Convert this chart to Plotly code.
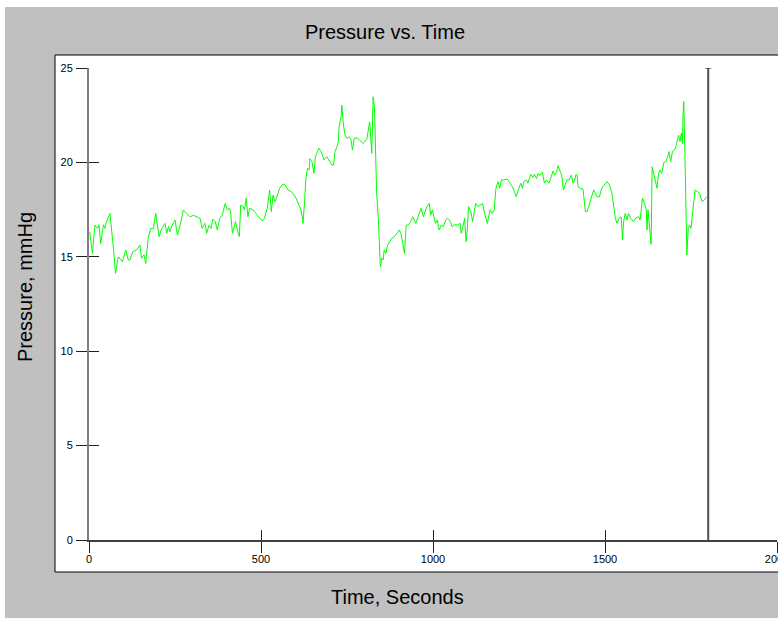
import plotly.graph_objects as go

# ---- data ----
time_s = [2, 10, 17, 25, 29, 34, 42, 46, 51, 61, 71, 77, 85, 90, 97, 107, 114, 119, 127, 138,
          148, 153, 160, 165, 172, 179, 187, 194, 199, 204, 211, 221, 226, 231, 235, 242, 250, 257, 265, 274,
          284, 294, 304, 313, 323, 329, 337, 342, 349, 355, 360, 367, 373, 380, 387, 396, 402, 409, 412, 417,
          422, 426, 432, 437, 441, 448, 452, 457, 462, 467, 477, 486, 496, 503, 510, 518, 525, 530, 535, 540,
          545, 554, 564, 571, 578, 588, 596, 602, 610, 615, 619, 622, 627, 630, 635, 640, 642, 648, 654, 658,
          668, 675, 683, 691, 700, 706, 711, 715, 721, 725, 727, 733, 735, 739, 744, 750, 756, 761, 766, 771,
          779, 786, 796, 802, 808, 813, 816, 822, 825, 826, 830, 832, 836, 841, 844, 847, 851, 855, 858, 863,
          868, 873, 880, 888, 896, 902, 907, 912, 917, 922, 928, 935, 941, 950, 957, 965, 972, 977, 982, 989,
          993, 998, 1003, 1007, 1012, 1018, 1024, 1030, 1037, 1043, 1051, 1055, 1062, 1071, 1079, 1082, 1088, 1092, 1096, 1100,
          1103, 1110, 1115, 1120, 1124, 1131, 1137, 1144, 1150, 1158, 1166, 1172, 1178, 1183, 1189, 1194, 1199, 1206, 1216, 1224,
          1230, 1237, 1242, 1248, 1255, 1260, 1264, 1272, 1276, 1284, 1290, 1295, 1301, 1306, 1310, 1318, 1324, 1330, 1337, 1342,
          1349, 1354, 1359, 1363, 1369, 1374, 1379, 1384, 1389, 1396, 1402, 1407, 1412, 1416, 1419, 1422, 1428, 1436, 1443, 1448,
          1455, 1462, 1467, 1472, 1477, 1484, 1489, 1494, 1501, 1506, 1513, 1520, 1525, 1530, 1535, 1541, 1547, 1551, 1554, 1559,
          1564, 1568, 1575, 1583, 1590, 1598, 1602, 1606, 1609, 1615, 1620, 1622, 1625, 1629, 1634, 1637, 1641, 1646, 1651, 1656,
          1660, 1665, 1671, 1677, 1682, 1686, 1691, 1696, 1702, 1706, 1714, 1718, 1722, 1725, 1727, 1729, 1732, 1735, 1738, 1742,
          1746, 1750, 1754, 1758, 1762, 1767, 1775, 1782, 1789, 1795]

pressure_mmhg = [16.33, 15.18, 16.68, 16.50, 16.70, 15.70, 16.70, 16.50, 16.86, 17.30, 15.45, 14.13, 15.00, 14.90, 14.74, 15.36, 14.83, 14.83, 15.27, 15.36,
                 15.62, 14.92, 15.10, 14.65, 15.98, 16.50, 16.50, 17.30, 16.68, 16.07, 16.50, 16.77, 16.24, 16.60, 16.33, 16.68, 16.95, 16.15, 16.68, 17.48,
                 17.30, 17.12, 17.20, 17.12, 17.03, 16.50, 16.77, 16.24, 16.68, 16.50, 17.00, 16.86, 16.42, 17.04, 17.20, 17.83, 17.48, 17.57, 17.30, 16.24,
                 16.60, 16.86, 16.33, 16.07, 17.74, 17.66, 17.48, 18.10, 17.12, 17.57, 17.48, 17.30, 17.04, 16.90, 17.04, 17.57, 18.54, 17.39, 18.27, 17.92,
                 18.10, 18.63, 18.86, 18.80, 18.54, 18.45, 18.27, 18.10, 17.74, 17.57, 17.20, 16.77, 18.00, 19.07, 19.69, 19.60, 20.20, 20.04, 19.42, 20.30,
                 20.75, 20.57, 20.13, 20.30, 20.04, 19.86, 19.86, 20.57, 20.83, 21.10, 21.90, 22.42, 23.04, 22.10, 21.45, 21.27, 21.36, 21.27, 20.66, 21.27,
                 21.30, 21.20, 21.00, 21.10, 21.27, 21.90, 22.15, 20.48, 22.70, 23.48, 22.90, 21.60, 18.45, 17.04, 15.80, 14.48, 14.92, 14.83, 15.36, 15.18,
                 15.62, 15.80, 15.98, 16.07, 16.24, 16.42, 16.24, 15.80, 15.18, 16.68, 16.68, 16.86, 17.12, 16.77, 17.12, 17.57, 17.12, 17.39, 17.66, 17.83,
                 17.20, 17.48, 17.12, 16.77, 16.95, 16.42, 16.68, 16.60, 16.95, 17.04, 16.86, 16.60, 16.70, 16.68, 16.77, 16.24, 16.68, 17.04, 15.80, 16.50,
                 17.66, 17.39, 16.86, 17.39, 17.83, 17.66, 17.74, 17.83, 17.30, 16.77, 17.48, 17.30, 17.48, 18.63, 18.98, 18.63, 19.07, 19.07, 19.12, 18.90,
                 18.72, 18.45, 18.18, 18.54, 18.90, 18.63, 18.98, 19.07, 18.90, 19.37, 19.20, 19.37, 19.15, 19.42, 19.30, 19.47, 18.90, 19.07, 18.90, 19.15,
                 19.54, 19.33, 19.47, 19.83, 19.60, 19.33, 18.54, 18.80, 19.07, 19.07, 19.33, 18.90, 19.07, 19.37, 19.33, 18.70, 18.63, 18.59, 17.39, 17.39,
                 17.83, 18.27, 18.54, 18.36, 18.18, 18.18, 18.54, 18.72, 18.89, 18.98, 18.80, 18.36, 17.74, 17.04, 16.77, 17.04, 17.12, 15.89, 16.86, 17.30,
                 16.95, 17.30, 17.04, 16.86, 17.07, 17.12, 16.95, 17.66, 18.10, 17.83, 17.48, 16.42, 17.48, 16.68, 15.66, 19.77, 19.51, 19.07, 18.63, 19.42,
                 19.60, 19.42, 20.00, 20.04, 20.30, 20.57, 20.04, 20.57, 20.66, 20.83, 21.45, 21.10, 21.54, 21.00, 22.51, 23.22, 20.75, 17.48, 15.10, 16.50,
                 16.68, 16.50, 17.39, 17.92, 18.54, 18.45, 18.36, 17.92, 18.01, 18.18]

x_tick_values = [0, 500, 1000, 1500, 2000]
x_tick_labels = ["0", "500", "1000", "1500", "2000"]
y_tick_values = [0, 5, 10, 15, 20, 25]
y_tick_labels = ["0", "5", "10", "15", "20", "25"]
x_range = [0, 2000]
y_range = [0, 25]
cursor_time = 1800

# ---- figure geometry (pixels) ----
W, H = 778, 618
ML, MR, MT, MB = 89, 1, 68, 78
PW, PH = W - ML - MR, H - MT - MB


def px_x(p):
    return (p - ML) / PW


def px_y(p):
    return (H - MB - p) / PH


FONT = "Liberation Sans, Arial, sans-serif"

fig = go.Figure()
fig.add_trace(go.Scatter(x=time_s, y=pressure_mmhg, mode="lines",
                         line=dict(color="#00ff00", width=1), hoverinfo="skip",
                         showlegend=False))
# empty trace to host overlay axes (inner half of the crossing ticks)
fig.add_trace(go.Scatter(x=[], y=[], xaxis="x2", yaxis="y2", showlegend=False))

axis_common = dict(showgrid=False, zeroline=False, ticks="outside", ticklen=11,
                   tickwidth=1, tickcolor="#202020", ticklabeloverflow="allow",
                   automargin=False,
                   tickfont=dict(family=FONT, size=11, color="#000000"))

fig.update_layout(
    width=W, height=H,
    margin=dict(l=ML, r=MR, t=MT, b=MB, pad=0, autoexpand=False),
    paper_bgcolor="#c0c0c0",
    plot_bgcolor="rgba(0,0,0,0)",
    showlegend=False,
    title=dict(text="Pressure vs. Time", xref="container", yref="container",
               x=385 / W, y=1 - 32 / H, xanchor="center", yanchor="middle",
               font=dict(family=FONT, size=20, color="#000000")),
    xaxis=dict(range=x_range, tickvals=x_tick_values, ticktext=x_tick_labels,
               showline=True, linecolor="#404040", linewidth=1.5,
               ticklabelstandoff=-3, **axis_common),
    yaxis=dict(range=y_range, tickvals=y_tick_values, ticktext=y_tick_labels,
               showline=True, linecolor="#808080", linewidth=2,
               ticklabelstandoff=1, **axis_common),
    xaxis2=dict(range=x_range, tickvals=x_tick_values, overlaying="x", anchor="y2",
                side="bottom", showticklabels=False, showline=False, showgrid=False,
                zeroline=False, ticks="inside", ticklen=10, tickwidth=1, tickcolor="#202020",
                automargin=False),
    yaxis2=dict(range=y_range, tickvals=y_tick_values, overlaying="y", anchor="x2",
                side="left", showticklabels=False, showline=False, showgrid=False,
                zeroline=False, ticks="inside", ticklen=10, tickwidth=1, tickcolor="#202020",
                automargin=False),
)

# white plot panel with black border (larger than the axis area)
fig.add_shape(type="rect", xref="paper", yref="paper",
              x0=px_x(55), x1=px_x(790), y0=px_y(572), y1=px_y(55),
              fillcolor="#ffffff", line=dict(color="#000000", width=1), layer="below")
# thin white strips at the top and left edges of the picture
fig.add_shape(type="rect", xref="paper", yref="paper",
              x0=px_x(-2), x1=px_x(790), y0=px_y(7), y1=px_y(-2),
              fillcolor="#ffffff", line=dict(width=0), layer="below")
fig.add_shape(type="rect", xref="paper", yref="paper",
              x0=px_x(-2), x1=px_x(5), y0=px_y(625), y1=px_y(-2),
              fillcolor="#ffffff", line=dict(width=0), layer="below")

# cursor line at 1800 s with a small cap
fig.add_shape(type="line", xref="x", yref="y", x0=cursor_time, x1=cursor_time,
              y0=y_range[0], y1=y_range[1], line=dict(color="#505050", width=2))
fig.add_shape(type="line", xref="x", yref="y", x0=cursor_time - 9, x1=cursor_time + 9,
              y0=y_range[1], y1=y_range[1], line=dict(color="#202020", width=1))

# axis titles
fig.add_annotation(text="Time, Seconds", xref="paper", yref="paper",
                   x=px_x(397), y=px_y(597), showarrow=False,
                   xanchor="center", yanchor="middle",
                   font=dict(family=FONT, size=20, color="#000000"))
fig.add_annotation(text="Pressure, mmHg", xref="paper", yref="paper",
                   x=px_x(25), y=px_y(287), showarrow=False, textangle=-90,
                   xanchor="center", yanchor="middle",
                   font=dict(family=FONT, size=20, color="#000000"))

fig.write_html("out.html")
